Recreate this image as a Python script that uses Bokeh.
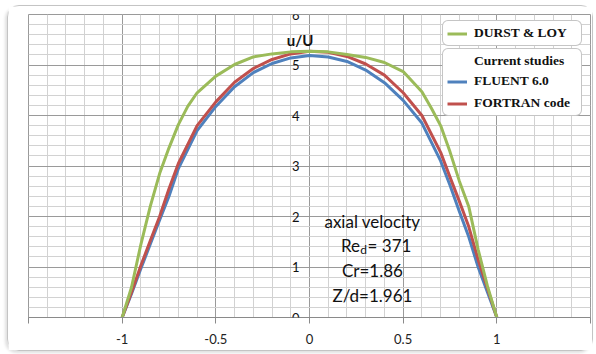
from bokeh.plotting import figure
from bokeh.models import (ColumnDataSource, FixedTicker, Legend, LegendItem, Label)
from bokeh.embed import file_html
from bokeh.resources import INLINE

# ---------------- data ----------------
r_durst = [-1.0, -0.95, -0.9, -0.85, -0.8, -0.75, -0.7, -0.65, -0.6, -0.5, -0.4, -0.3, -0.2, -0.1, 0.0,
           0.1, 0.2, 0.3, 0.4, 0.5, 0.6, 0.65, 0.7, 0.75, 0.8, 0.85, 0.9, 0.95, 1.0]
u_durst = [0.0, 0.6, 1.45, 2.2, 2.85, 3.36, 3.82, 4.18, 4.45, 4.78, 5.01, 5.16, 5.22, 5.26, 5.27,
           5.26, 5.21, 5.15, 5.05, 4.87, 4.47, 4.15, 3.8, 3.28, 2.7, 2.2, 1.35, 0.62, 0.0]

r_fluent = [-1.0, -0.95, -0.9, -0.85, -0.8, -0.75, -0.7, -0.6, -0.5, -0.4, -0.3, -0.2, -0.1, 0.0,
            0.1, 0.2, 0.3, 0.4, 0.5, 0.6, 0.7, 0.75, 0.8, 0.85, 0.9, 0.95, 1.0]
u_fluent = [0.0, 0.47, 0.97, 1.45, 1.93, 2.4, 2.95, 3.7, 4.18, 4.57, 4.85, 5.03, 5.14, 5.19,
            5.16, 5.07, 4.9, 4.65, 4.3, 3.85, 3.1, 2.62, 2.1, 1.6, 1.0, 0.5, 0.0]

r_fortran = [-1.0, -0.95, -0.9, -0.85, -0.8, -0.75, -0.7, -0.6, -0.5, -0.4, -0.3, -0.2, -0.1, 0.0,
             0.1, 0.2, 0.3, 0.4, 0.5, 0.6, 0.7, 0.75, 0.8, 0.85, 0.9, 0.95, 1.0]
u_fortran = [0.0, 0.5, 1.03, 1.52, 2.0, 2.55, 3.05, 3.8, 4.27, 4.66, 4.93, 5.11, 5.22, 5.27,
             5.25, 5.17, 5.02, 4.8, 4.45, 4.0, 3.27, 2.78, 2.3, 1.8, 1.15, 0.58, 0.0]

x_major_ticks = [-1.5, -1.0, -0.5, 0.0, 0.5, 1.0, 1.5]
x_tick_labels = {-1.5: "", -1.0: "-1", -0.5: "-0.5", 0.0: "0", 0.5: "0.5", 1.0: "1", 1.5: ""}
x_minor_ticks = [round(-1.5 + 0.1 * i, 2) for i in range(31)]
y_major_ticks = [0, 1, 2, 3, 4, 5, 6]
y_tick_labels = ["0", "1", "2", "3", "4", "5", "6"]
y_minor_ticks = [round(0.2 * i, 2) for i in range(31)]

series_names = ["DURST & LOY", "FLUENT 6.0", "FORTRAN code"]
legend_group_title = "Current studies"
y_title = "u/U"
x_title = "r/R"
note_lines = ["axial velocity", "Cr=1.86", "Z/d=1.961"]

# ---------------- figure ----------------
p = figure(width=586, height=346, x_range=(-1.5, 1.5), y_range=(0, 6),
           output_backend="svg", toolbar_location=None,
           min_border_left=20, min_border_right=4, min_border_top=8, min_border_bottom=35,
           background_fill_color="white", border_fill_color="white",
           x_axis_location="below", y_axis_location="left")
p.margin = (5, 3, 3, 7)
p.styles = {"border": "1.5px solid #c4c4c4", "border-radius": "12px",
            "box-shadow": "-2px 2px 3px #e0e0e0"}
p.outline_line_color = "#9a9a9a"
p.outline_line_width = 1

TICK_FONT = "Lato"

# grids
p.xaxis.ticker = FixedTicker(ticks=x_major_ticks, minor_ticks=x_minor_ticks)
p.yaxis.ticker = FixedTicker(ticks=y_major_ticks, minor_ticks=y_minor_ticks)
for g in (p.xgrid, p.ygrid):
    g.grid_line_color = "#9a9a9a"
    g.grid_line_width = 1
    g.minor_grid_line_color = "#d2d2d2"
    g.minor_grid_line_width = 1

# x axis
xa = p.xaxis[0]
xa.major_label_overrides = x_tick_labels
xa.axis_line_color = "#8a8a8a"
xa.major_tick_line_color = "#8a8a8a"
xa.major_tick_out = 6
xa.major_tick_in = 0
xa.minor_tick_line_color = None
xa.major_label_standoff = 10
xa.major_label_text_font = TICK_FONT
xa.major_label_text_font_size = "13px"
xa.major_label_text_color = "#222222"

# the value axis sits on r = 0 (the major grid line there); its labels are drawn as labels
ya = p.yaxis[0]
ya.visible = False

for v, t in zip(y_major_ticks, y_tick_labels):
    p.add_layout(Label(x=0.0, y=v, text=t, x_offset=-10, text_align="right",
                       text_baseline="middle", text_font=TICK_FONT,
                       text_font_size="13px", text_color="#111111"))

# lines
src_d = ColumnDataSource(dict(x=r_durst, y=u_durst))
src_f = ColumnDataSource(dict(x=r_fluent, y=u_fluent))
src_t = ColumnDataSource(dict(x=r_fortran, y=u_fortran))
l_f = p.line("x", "y", source=src_f, line_color="#4F81BD", line_width=3, line_join="round")
l_t = p.line("x", "y", source=src_t, line_color="#C0504D", line_width=3, line_join="round")
l_d = p.line("x", "y", source=src_d, line_color="#9BBB59", line_width=3, line_join="round")

# legends
leg_common = dict(
    border_line_color="#8c8c8c", border_line_width=1.5,
    background_fill_color="white", background_fill_alpha=1.0,
    label_text_font="Liberation Serif", label_text_font_style="bold",
    label_text_font_size="13.5px", label_text_color="#111111",
    glyph_width=20, glyph_height=15, label_height=15, label_width=103,
    label_standoff=7, padding=4, margin=0,
)
if "border_radius" in Legend.properties():
    leg_common["border_radius"] = 6

leg1 = Legend(items=[LegendItem(label=series_names[0], renderers=[l_d])],
              location=(414, 271), **leg_common)
leg2 = Legend(items=[LegendItem(label=series_names[1], renderers=[l_f]),
                     LegendItem(label=series_names[2], renderers=[l_t])],
              location=(414, 201), spacing=6,
              title="\u2003\u2003" + legend_group_title,
              title_text_font="Liberation Serif", title_text_font_style="bold",
              title_text_font_size="13.5px", title_text_color="#111111",
              title_standoff=4, **leg_common)
p.add_layout(leg1)
p.add_layout(leg2)

# axis titles
p.add_layout(Label(x=-0.05, y=5.5, text=y_title, text_align="center", text_baseline="middle",
                   text_font="Lato", text_font_style="bold", text_font_size="15px",
                   text_color="#111111"))
p.add_layout(Label(x=0.17, y=-0.42, text=x_title, text_align="center", text_baseline="middle",
                   text_font=TICK_FONT, text_font_size="13px", text_color="#222222"))

# annotation block
NOTE_FONT = "Lato"
note_kw = dict(text_baseline="middle", text_font=NOTE_FONT, text_color="#111111")
p.add_layout(Label(x=0.336, y=1.91, text=note_lines[0], text_align="center",
                   text_font_size="17px", **note_kw))
p.add_layout(Label(x=0.27, y=1.42, text="Re", text_align="right", text_font_size="17px", **note_kw))
p.add_layout(Label(x=0.271, y=1.34, text="d", text_align="left", text_font_size="12px", **note_kw))
p.add_layout(Label(x=0.31, y=1.42, text="= 371", text_align="left", text_font_size="17px", **note_kw))
p.add_layout(Label(x=0.336, y=0.93, text=note_lines[1], text_align="center",
                   text_font_size="17px", **note_kw))
p.add_layout(Label(x=0.336, y=0.43, text=note_lines[2], text_align="center",
                   text_font_size="17px", **note_kw))

open("out.html", "w").write(file_html(p, INLINE))
